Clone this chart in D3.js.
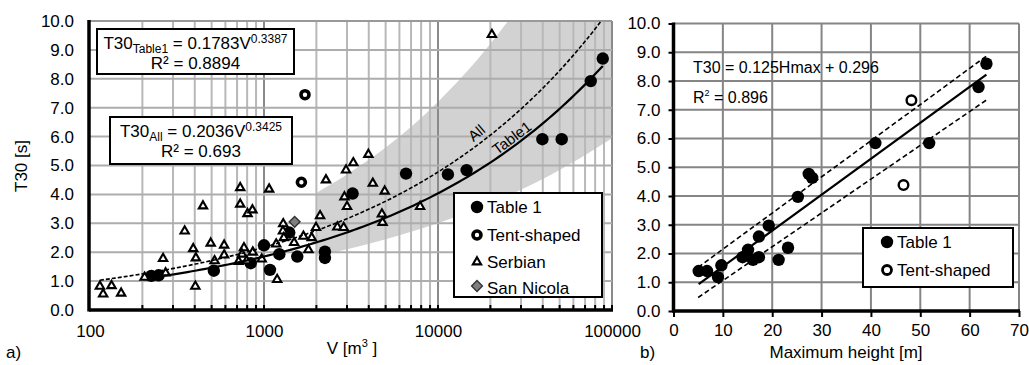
<!DOCTYPE html>
<html>
<head>
<meta charset="utf-8">
<script src="https://cdn.jsdelivr.net/npm/d3@7"></script>
<style>
  body { margin: 0; background: #fff; }
  svg text { font-family: "Liberation Sans", Arial, sans-serif; }
</style>
</head>
<body>
<svg id="chart" width="1029" height="365"></svg>
<script>
// ---- panel a) data : volume V [m3] vs T30 [s]
const table1Vol = [225, 248, 515, 839, 1000, 1082, 1225, 1397, 1553, 2240, 2240, 3230, 6550, 11400, 14600, 39800, 51400, 75500, 88500];
const table1T30 = [1.18, 1.2, 1.36, 1.62, 2.24, 1.39, 1.93, 2.68, 1.85, 1.80, 2.02, 4.03, 4.72, 4.69, 4.84, 5.91, 5.91, 7.92, 8.7];
const tentVol = [1640, 1720];
const tentT30 = [4.42, 7.45];
const serbianVol = [114, 119, 133, 151, 206, 263, 272, 350, 446, 392, 406, 403, 494, 520, 590, 590, 730, 730, 804, 858,
  767, 748, 715, 795, 862, 970, 1070, 1190, 1175, 1290, 1285, 1300, 1490, 1685, 1880, 1800, 1990, 2100, 2270, 2640,
  2870, 2960, 3260, 3980, 4220, 4940, 3000, 2900, 4760, 4800, 7890, 20400];
const serbianT30 = [0.82, 0.55, 0.84, 0.58, 1.13, 1.78, 1.28, 2.73, 3.6, 2.12, 1.8, 0.82, 2.31, 1.7, 2.24, 1.9, 4.23, 3.66, 3.33, 3.46,
  2.15, 1.93, 1.68, 1.7, 2.0, 1.76, 4.18, 1.05, 2.28, 2.98, 2.73, 2.5, 2.33, 2.55, 2.5, 2.08, 2.85, 3.26, 4.5, 2.87,
  2.85, 4.84, 5.09, 5.38, 4.38, 4.11, 3.58, 3.91, 3.32, 3.03, 3.58, 9.53];
const sanNicolaVol = [1500];
const sanNicolaT30 = [3.05];

// fits printed on the chart: T30 = a * V^b
const fitTable1 = [0.1783, 0.3387];
const fitAll = [0.2036, 0.3425];

// grey band
const bandVol = [2018, 3000, 5000, 10000, 20000, 50000, 100000];
const bandLow = [1.87, 2.10, 2.45, 3.0, 3.69, 4.84, 5.94];
const bandHigh = [4.07, 4.69, 5.62, 7.2, 9.21, 12.7, 16.3];

const volTicks = [100, 1000, 10000, 100000];

// ---- panel b) data : maximum height [m] vs T30 [s]
const table1H = [5.1, 6.8, 9.7, 9.0, 14.0, 15.1, 16.1, 17.3, 17.3, 19.3, 21.3, 23.2, 25.2, 27.4, 28.1, 40.9, 51.8, 61.8, 63.4];
const table1T30H = [1.39, 1.39, 1.59, 1.18, 1.87, 2.13, 1.78, 1.87, 2.59, 2.97, 1.78, 2.2, 3.97, 4.77, 4.63, 5.84, 5.84, 7.79, 8.6];
const tentH = [46.6, 48.2];
const tentT30H = [4.38, 7.33];
const fitHmax = [0.125, 0.296];
const boundH = [5, 63.5];
const boundUpper = [1.52, 8.88];
const boundLower = [0.47, 7.35];

const svg = d3.select("#chart");
const FONT = 17;

function axisFont(g) {
  g.attr("font-size", FONT).attr("font-family", '"Liberation Sans", Arial, sans-serif');
  g.select(".domain").remove();
}

// ================= panel a =================
const xA = d3.scaleLog().domain([100, 100000]).range([90, 612]);
const yA = d3.scaleLinear().domain([0, 10]).range([310, 21]);

svg.append("clipPath").attr("id", "clipA")
  .append("rect").attr("x", 90).attr("y", 21).attr("width", 522).attr("height", 289);

const gA = svg.append("g");

gA.append("path")
  .datum(d3.zip(bandVol, bandLow, bandHigh))
  .attr("clip-path", "url(#clipA)")
  .attr("fill", "#d2d2d2")
  .attr("d", d3.area()
    .x(d => xA(d[0]))
    .y0(d => yA(d[1]))
    .y1(d => yA(d[2]))
    .curve(d3.curveMonotoneX));

// grid
const logTicks = xA.ticks().filter(v => v > 100);
gA.selectAll("line.vgrid").data(logTicks).join("line")
  .attr("class", "vgrid")
  .attr("x1", d => xA(d)).attr("x2", d => xA(d))
  .attr("y1", yA(0)).attr("y2", yA(10))
  .attr("stroke", d => Number.isInteger(Math.log10(d)) ? "#8a8a8a" : "#b8b8b8")
  .attr("stroke-width", 2);
gA.selectAll("line.hgrid").data(d3.range(1, 11)).join("line")
  .attr("class", "hgrid")
  .attr("x1", xA(100)).attr("x2", xA(100000))
  .attr("y1", d => yA(d)).attr("y2", d => yA(d))
  .attr("stroke", d => d === 10 ? "#999" : "#adadad")
  .attr("stroke-width", 2);

// minor ticks on the x axis
gA.selectAll("line.mtick").data(logTicks).join("line")
  .attr("class", "mtick")
  .attr("x1", d => xA(d)).attr("x2", d => xA(d))
  .attr("y1", yA(0)).attr("y2", yA(0) - 5)
  .attr("stroke", "#000").attr("stroke-width", 2);

// axes
gA.append("g").attr("transform", `translate(0,${yA(0)})`)
  .call(d3.axisBottom(xA).tickValues(volTicks).tickFormat(d3.format("d")).tickSize(0).tickPadding(15))
  .call(axisFont);
gA.append("g").attr("transform", `translate(${xA(100)},0)`)
  .call(d3.axisLeft(yA).tickValues(d3.range(0, 11)).tickFormat(d3.format(".1f")).tickSize(0).tickPadding(16))
  .call(axisFont);
gA.append("line").attr("x1", 89).attr("x2", 613).attr("y1", yA(0)).attr("y2", yA(0))
  .attr("stroke", "#000").attr("stroke-width", 3.5);
gA.append("line").attr("x1", 89).attr("x2", 89).attr("y1", yA(10) - 1).attr("y2", yA(0) + 1.5)
  .attr("stroke", "#000").attr("stroke-width", 3.5);

// markers
const tri = d3.symbol().type(d3.symbolTriangle).size(30);
const dia = d3.symbol().type(d3.symbolSquare).size(58);

gA.selectAll("circle.t1").data(d3.zip(table1Vol, table1T30)).join("circle")
  .attr("class", "t1")
  .attr("cx", d => xA(d[0])).attr("cy", d => yA(d[1])).attr("r", 6.2)
  .attr("fill", "#000");
gA.selectAll("circle.tent").data(d3.zip(tentVol, tentT30)).join("circle")
  .attr("class", "tent")
  .attr("cx", d => xA(d[0])).attr("cy", d => yA(d[1])).attr("r", 4)
  .attr("fill", "#fff").attr("stroke", "#000").attr("stroke-width", 3.6);
gA.selectAll("path.serb").data(d3.zip(serbianVol, serbianT30)).join("path")
  .attr("class", "serb")
  .attr("transform", d => `translate(${xA(d[0])},${yA(d[1])})`)
  .attr("d", tri)
  .attr("fill", "#fff").attr("stroke", "#000").attr("stroke-width", 2.1);
gA.selectAll("path.sn").data(d3.zip(sanNicolaVol, sanNicolaT30)).join("path")
  .attr("class", "sn")
  .attr("transform", d => `translate(${xA(d[0])},${yA(d[1])}) rotate(45)`)
  .attr("d", dia)
  .attr("fill", "#7f7f7f").attr("stroke", "#333").attr("stroke-width", 1.4);

// power-law fit lines
function powerLine(fit, v0, v1) {
  return d3.range(0, 101).map(i => {
    const v = Math.pow(10, Math.log10(v0) + (Math.log10(v1) - Math.log10(v0)) * i / 100);
    return [v, fit[0] * Math.pow(v, fit[1])];
  });
}
const lineA = d3.line().x(d => xA(d[0])).y(d => yA(d[1]));
const allVol = serbianVol.concat(table1Vol, tentVol, sanNicolaVol);

gA.append("path").datum(powerLine(fitAll, d3.min(allVol), d3.max(allVol)))
  .attr("clip-path", "url(#clipA)")
  .attr("d", lineA).attr("fill", "none")
  .attr("stroke", "#000").attr("stroke-width", 1.6).attr("stroke-dasharray", "4,2");
gA.append("path").datum(powerLine(fitTable1, d3.min(table1Vol), d3.max(table1Vol)))
  .attr("d", lineA).attr("fill", "none")
  .attr("stroke", "#000").attr("stroke-width", 2.2);

gA.append("text").text("All")
  .attr("transform", `translate(480,137) rotate(-40)`)
  .attr("text-anchor", "middle").attr("font-size", 15);
gA.append("text").text("Table1")
  .attr("transform", `translate(515,142) rotate(-37)`)
  .attr("text-anchor", "middle").attr("font-size", 15);

// equation boxes
function eqBox(x, y, w, h, sub, coef, expo, r2) {
  const g = gA.append("g");
  g.append("rect").attr("x", x).attr("y", y).attr("width", w).attr("height", h)
    .attr("fill", "#fff").attr("stroke", "#000").attr("stroke-width", 2);
  const t = g.append("text").attr("x", x + w / 2).attr("y", y + 20)
    .attr("text-anchor", "middle").attr("font-size", FONT);
  t.append("tspan").text("T30");
  t.append("tspan").text(sub).attr("font-size", 12).attr("dy", 4);
  t.append("tspan").text(" = " + coef + "V").attr("dy", -4);
  t.append("tspan").text(expo).attr("font-size", 12).attr("dy", -6);
  g.append("text").attr("x", x + w / 2).attr("y", y + 40)
    .attr("text-anchor", "middle").attr("font-size", FONT)
    .text("R² = " + r2);
}
eqBox(97, 29, 197, 45, "Table1", fitTable1[0], fitTable1[1], 0.8894);
eqBox(110, 117, 182, 47, "All", fitAll[0], fitAll[1], 0.693);

// legend a
const legA = gA.append("g");
legA.append("rect").attr("x", 454).attr("y", 193).attr("width", 148).attr("height", 104)
  .attr("fill", "#fff").attr("stroke", "#000").attr("stroke-width", 2);
const legItems = ["Table 1", "Tent-shaped", "Serbian", "San Nicola"];
const legY = [207, 235, 262, 288];
legItems.forEach((name, i) => {
  const cy = legY[i], cx = 477;
  if (i === 0) legA.append("circle").attr("cx", cx).attr("cy", cy).attr("r", 6.2).attr("fill", "#000");
  if (i === 1) legA.append("circle").attr("cx", cx).attr("cy", cy).attr("r", 4)
    .attr("fill", "#fff").attr("stroke", "#000").attr("stroke-width", 3.6);
  if (i === 2) legA.append("path").attr("transform", `translate(${cx},${cy})`).attr("d", tri)
    .attr("fill", "#fff").attr("stroke", "#000").attr("stroke-width", 2.1);
  if (i === 3) legA.append("path").attr("transform", `translate(${cx},${cy - 2}) rotate(45)`).attr("d", dia)
    .attr("fill", "#7f7f7f").attr("stroke", "#333").attr("stroke-width", 1.4);
  legA.append("text").attr("x", 487).attr("y", cy + 6).attr("font-size", FONT).text(name);
});

// titles a
svg.append("text").attr("transform", "translate(27,166) rotate(-90)")
  .attr("text-anchor", "middle").attr("font-size", FONT).text("T30 [s]");
const vt = svg.append("text").attr("x", 352).attr("y", 354).attr("text-anchor", "middle").attr("font-size", FONT);
vt.append("tspan").text("V [m");
vt.append("tspan").text("3").attr("font-size", 11).attr("dy", -7);
vt.append("tspan").text(" ]").attr("dy", 7);
svg.append("text").attr("x", 6).attr("y", 358).attr("font-size", FONT).text("a)");

// ================= panel b =================
const xB = d3.scaleLinear().domain([0, 70]).range([673.5, 1019]);
const yB = d3.scaleLinear().domain([0, 10]).range([311, 23.5]);
const gB = svg.append("g");

gB.selectAll("line.vg").data(d3.range(10, 71, 10)).join("line")
  .attr("class", "vg")
  .attr("x1", d => xB(d)).attr("x2", d => xB(d)).attr("y1", yB(0)).attr("y2", yB(10))
  .attr("stroke", "#858585").attr("stroke-width", 2);
gB.selectAll("line.hg").data(d3.range(1, 11)).join("line")
  .attr("class", "hg")
  .attr("x1", xB(0)).attr("x2", xB(70)).attr("y1", d => yB(d)).attr("y2", d => yB(d))
  .attr("stroke", "#858585").attr("stroke-width", 2);

gB.append("g").attr("transform", `translate(0,${yB(0)})`)
  .call(d3.axisBottom(xB).tickValues(d3.range(0, 71, 10)).tickSize(6).tickPadding(7))
  .call(axisFont)
  .call(g => g.selectAll(".tick line").attr("stroke-width", 2));
gB.append("g").attr("transform", `translate(${xB(0)},0)`)
  .call(d3.axisLeft(yB).tickValues(d3.range(0, 11)).tickFormat(d3.format(".1f")).tickSize(5).tickPadding(8))
  .call(axisFont)
  .call(g => g.selectAll(".tick line").attr("stroke-width", 2));
gB.append("line").attr("x1", xB(0) - 1).attr("x2", xB(70) + 1).attr("y1", yB(0)).attr("y2", yB(0))
  .attr("stroke", "#000").attr("stroke-width", 3.5);
gB.append("line").attr("x1", xB(0)).attr("x2", xB(0)).attr("y1", yB(10) - 1).attr("y2", yB(0) + 1.5)
  .attr("stroke", "#000").attr("stroke-width", 3.5);

const lineB = d3.line().x(d => xB(d[0])).y(d => yB(d[1]));
gB.append("path").datum(d3.zip(boundH, boundUpper)).attr("d", lineB)
  .attr("fill", "none").attr("stroke", "#000").attr("stroke-width", 1.6).attr("stroke-dasharray", "5,3");
gB.append("path").datum(d3.zip(boundH, boundLower)).attr("d", lineB)
  .attr("fill", "none").attr("stroke", "#000").attr("stroke-width", 1.6).attr("stroke-dasharray", "5,3");
const hExt = d3.extent(table1H);
gB.append("path").datum(hExt.map(h => [h, fitHmax[0] * h + fitHmax[1]])).attr("d", lineB)
  .attr("fill", "none").attr("stroke", "#000").attr("stroke-width", 2.2);

gB.selectAll("circle.t1").data(d3.zip(table1H, table1T30H)).join("circle")
  .attr("class", "t1")
  .attr("cx", d => xB(d[0])).attr("cy", d => yB(d[1])).attr("r", 6.2).attr("fill", "#000");
gB.selectAll("circle.tent").data(d3.zip(tentH, tentT30H)).join("circle")
  .attr("class", "tent")
  .attr("cx", d => xB(d[0])).attr("cy", d => yB(d[1])).attr("r", 4.8)
  .attr("fill", "#fff").attr("stroke", "#000").attr("stroke-width", 2.4);

gB.append("text").attr("x", 693).attr("y", 73).attr("font-size", 16)
  .text(`T30 = ${fitHmax[0]}Hmax + ${fitHmax[1]}`);
const r2b = gB.append("text").attr("x", 693).attr("y", 103).attr("font-size", 16);
r2b.append("tspan").text("R");
r2b.append("tspan").text("2").attr("font-size", 9).attr("dy", -7);
r2b.append("tspan").text(" = 0.896").attr("dy", 7);

// legend b
const legB = gB.append("g");
legB.append("rect").attr("x", 863).attr("y", 228).attr("width", 150).attr("height", 59)
  .attr("fill", "#fff").attr("stroke", "#000").attr("stroke-width", 2);
legB.append("circle").attr("cx", 887).attr("cy", 242).attr("r", 6.2).attr("fill", "#000");
legB.append("text").attr("x", 897).attr("y", 248).attr("font-size", FONT).text("Table 1");
legB.append("circle").attr("cx", 887).attr("cy", 270).attr("r", 4.5)
  .attr("fill", "#fff").attr("stroke", "#000").attr("stroke-width", 2.8);
legB.append("text").attr("x", 897).attr("y", 276).attr("font-size", FONT).text("Tent-shaped");

svg.append("text").attr("x", 846).attr("y", 358).attr("text-anchor", "middle").attr("font-size", FONT)
  .text("Maximum height [m]");
svg.append("text").attr("x", 640).attr("y", 358).attr("font-size", FONT).text("b)");
</script>
</body>
</html>
